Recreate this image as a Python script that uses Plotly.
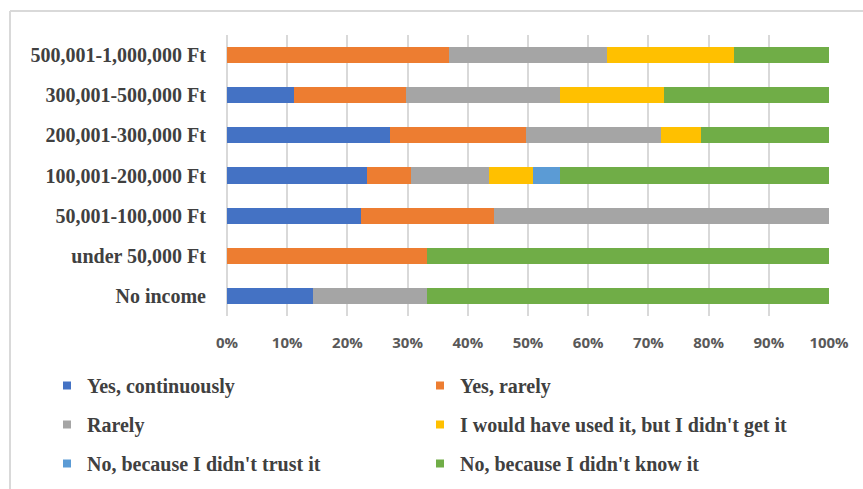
import plotly.graph_objects as go

categories = ["No income", "under 50,000 Ft", "50,001-100,000 Ft", "100,001-200,000 Ft",
              "200,001-300,000 Ft", "300,001-500,000 Ft", "500,001-1,000,000 Ft"]

yes_continuously = [14.3, 0, 22.2, 23.3, 27.0, 11.1, 0]
yes_rarely = [0, 33.3, 22.2, 7.2, 22.6, 18.6, 36.8]
rarely = [19.0, 0, 55.6, 13.0, 22.5, 25.6, 26.3]
would_have_used = [0, 0, 0, 7.3, 6.6, 17.3, 21.1]
no_trust = [0, 0, 0, 4.5, 0, 0, 0]
no_know = [66.7, 66.7, 0, 44.7, 21.3, 27.4, 15.8]

series = [
    ("Yes, continuously", yes_continuously, "#4472C4", "legend"),
    ("Yes, rarely", yes_rarely, "#ED7D31", "legend2"),
    ("Rarely", rarely, "#A5A5A5", "legend"),
    ("I would have used it, but I didn't get it", would_have_used, "#FFC000", "legend2"),
    ("No, because I didn't trust it", no_trust, "#5B9BD5", "legend"),
    ("No, because I didn't know it", no_know, "#70AD47", "legend2"),
]

x_ticks = list(range(0, 101, 10))
x_tick_labels = [f"{v}%" for v in x_ticks]

W, H = 863, 489
ML, MR, MT, MB = 227, 34, 35, 173
PW = W - ML - MR
PH = H - MT - MB


def px_x(p):
    return (p - ML) / PW


def px_y(p):
    return (H - MB - p) / PH


fig = go.Figure()
for name, vals, color, lg in series:
    fig.add_trace(go.Bar(
        y=categories, x=vals, name=name, orientation="h",
        marker=dict(color=color, line=dict(width=0)),
        showlegend=False,
    ))
for i, (name, vals, color, lg) in enumerate(series):
    fig.add_trace(go.Scatter(
        x=[None], y=[None], mode="markers", name=name,
        marker=dict(symbol="square", size=8, color=color),
        legend=lg, legendgroup=f"g{i}", showlegend=True,
    ))

serif = "Liberation Serif"
legend_common = dict(
    orientation="v", xanchor="left", yanchor="top",
    font=dict(family=serif, size=20, color="#404040", weight="bold"),
    bgcolor="rgba(0,0,0,0)", tracegroupgap=10, itemwidth=30,
)

fig.update_layout(
    width=W, height=H,
    margin=dict(l=ML, r=MR, t=MT, b=MB, autoexpand=False),
    barmode="stack", bargap=0.6,
    plot_bgcolor="white", paper_bgcolor="white",
    legend=dict(x=px_x(47), y=px_y(366), **legend_common),
    legend2=dict(x=px_x(420), y=px_y(366), **legend_common),
    xaxis=dict(
        range=[0, 100], tickvals=x_ticks, ticktext=x_tick_labels,
        showgrid=True, gridcolor="#D9D9D9", gridwidth=2,
        zeroline=True, zerolinecolor="#D9D9D9", zerolinewidth=2,
        showline=False, ticks="", ticklabelstandoff=16,
        tickfont=dict(family="Open Sans", size=15, color="#595959", weight="bold"),
        fixedrange=True, automargin=False,
    ),
    yaxis=dict(
        categoryorder="array", categoryarray=categories,
        showgrid=False, zeroline=False, showline=False, ticks="",
        ticklabelstandoff=20,
        tickfont=dict(family=serif, size=20, color="#404040", weight="bold"),
        fixedrange=True, automargin=False,
    ),
    shapes=[
        dict(type="line", xref="paper", yref="paper",
             x0=px_x(10), x1=px_x(10), y0=px_y(11), y1=px_y(H + 2),
             line=dict(color="#D9D9D9", width=2)),
        dict(type="line", xref="paper", yref="paper",
             x0=px_x(10), x1=px_x(W + 2), y0=px_y(11), y1=px_y(11),
             line=dict(color="#D9D9D9", width=2)),
    ],
)

fig.write_html("out.html")
